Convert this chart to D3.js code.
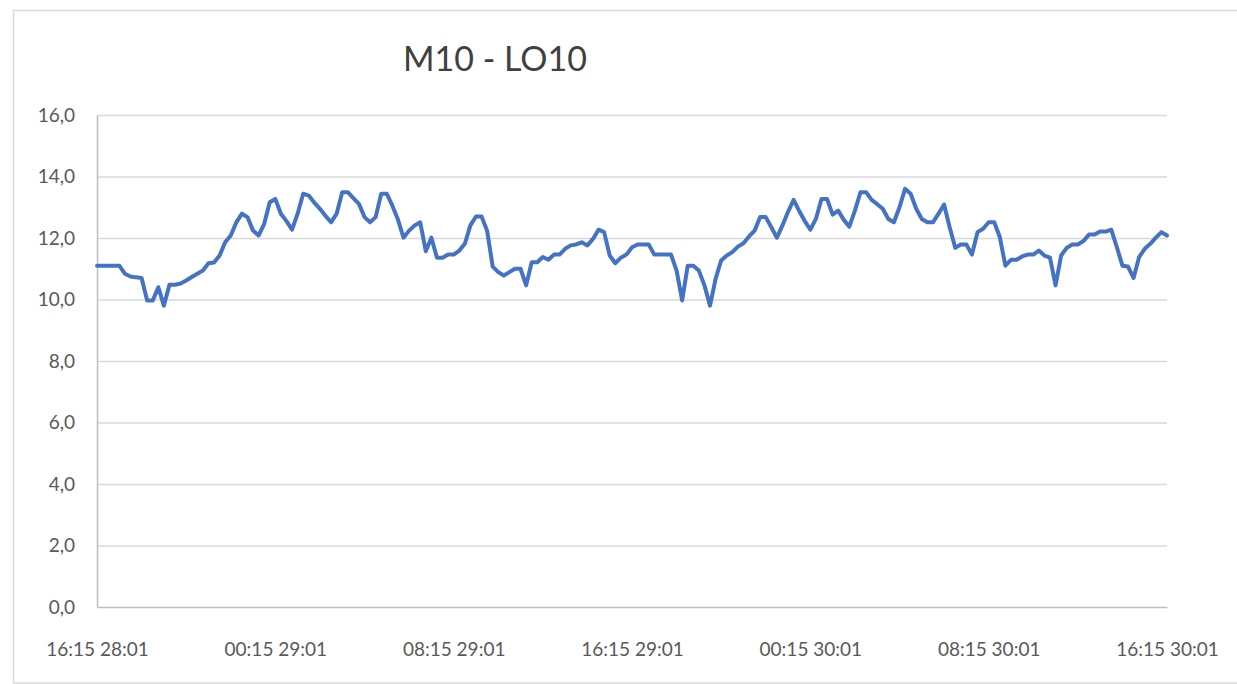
<!DOCTYPE html>
<html>
<head>
<meta charset="utf-8">
<script src="https://cdn.jsdelivr.net/npm/d3@7"></script>
<style>
  body { margin: 0; background: #fff; }
  svg { display: block; }
</style>
</head>
<body>
<div class="plot"></div>
<script>
// GLOBAL VARIABLES
var w = 1237;
var h = 684;
var margin = {top: 115, right: 70, bottom: 77, left: 97};

var title = "M10 - LO10";

// readings every 15 minutes, from 16:15 28/01 to 16:15 30/01
var values = [
  11.1, 11.1, 11.1, 11.1, 11.1, 10.84, 10.75, 10.72, 10.7, 9.97,
  9.97, 10.4, 9.8, 10.48, 10.48, 10.52, 10.62, 10.73, 10.84, 10.94,
  11.18, 11.2, 11.43, 11.86, 12.08, 12.51, 12.79, 12.68, 12.24, 12.08,
  12.46, 13.16, 13.27, 12.79, 12.55, 12.27, 12.79, 13.44, 13.38, 13.15,
  12.95, 12.72, 12.51, 12.79, 13.49, 13.49, 13.3, 13.11, 12.68, 12.51,
  12.68, 13.44, 13.44, 13.05, 12.6, 12.01, 12.24, 12.41, 12.51, 11.57,
  12.01, 11.36, 11.36, 11.46, 11.46, 11.59, 11.81, 12.41, 12.7, 12.7,
  12.24, 11.07, 10.89, 10.78, 10.89, 11.0, 11.0, 10.46, 11.21, 11.21,
  11.38, 11.29, 11.46, 11.46, 11.65, 11.76, 11.79, 11.86, 11.76, 11.97,
  12.27, 12.19, 11.43, 11.18, 11.36, 11.46, 11.7, 11.79, 11.79, 11.79,
  11.46, 11.46, 11.46, 11.46, 10.94, 9.97, 11.1, 11.1, 10.94, 10.46,
  9.8, 10.67, 11.27, 11.43, 11.54, 11.72, 11.83, 12.05, 12.24, 12.68,
  12.68, 12.35, 12.01, 12.41, 12.85, 13.24, 12.88, 12.55, 12.27, 12.62,
  13.27, 13.27, 12.76, 12.89, 12.59, 12.37, 12.89, 13.49, 13.49, 13.24,
  13.1, 12.95, 12.62, 12.51, 13.0, 13.6, 13.44, 12.95, 12.62, 12.51,
  12.51, 12.79, 13.09, 12.35, 11.68, 11.79, 11.79, 11.46, 12.19, 12.3,
  12.51, 12.51, 12.03, 11.1, 11.29, 11.29, 11.4, 11.46, 11.46, 11.59,
  11.43, 11.36, 10.46, 11.43, 11.68, 11.79, 11.79, 11.9, 12.11, 12.11,
  12.21, 12.21, 12.27, 11.7, 11.1, 11.07, 10.7, 11.38, 11.65, 11.81,
  12.01, 12.19, 12.08
];

// category labels shown on the x axis (every 32nd reading = 8 hours)
var tickIndex = [0, 32, 64, 96, 128, 160, 192];
var tickLabels = ["16:15 28:01", "00:15 29:01", "08:15 29:01", "16:15 29:01",
                  "00:15 30:01", "08:15 30:01", "16:15 30:01"];

var yTicks = [0, 2, 4, 6, 8, 10, 12, 14, 16];

var svg = d3.select(".plot").append("svg").attr("width", w).attr("height", h);

// chart frame
svg.append("rect")
  .attr("x", 13.5)
  .attr("y", 10.5)
  .attr("width", w)
  .attr("height", 672.5)
  .attr("fill", "none")
  .attr("stroke", "#d9d9d9")
  .attr("stroke-width", 1.5);

// SCALES
var xScale = d3.scaleLinear()
  .domain([0, values.length - 1])
  .range([margin.left, w - margin.right]);
var yScale = d3.scaleLinear()
  .domain([0, 16])
  .range([h - margin.bottom, margin.top]);

// GRID
svg.append("g")
  .attr("class", "grid")
  .attr("transform", "translate(" + margin.left + ",0)")
  .call(d3.axisLeft(yScale)
    .tickValues(yTicks.filter(function (d) { return d > 0; }))
    .tickSize(-(w - margin.right - margin.left))
    .tickFormat(""))
  .call(function (g) { g.select(".domain").remove(); })
  .selectAll("line")
  .attr("stroke", "#d9d9d9")
  .attr("stroke-width", 1.5);

// y-axis labels
var yAxis = d3.axisLeft(yScale)
  .tickValues(yTicks)
  .tickSize(0)
  .tickPadding(22)
  .tickFormat(function (d) { return d3.format(".1f")(d).replace(".", ","); });

var yG = svg.append("g")
  .attr("transform", "translate(" + margin.left + ",0)")
  .call(yAxis);
yG.select(".domain").attr("stroke", "#bfbfbf").attr("stroke-width", 1.5);
yG.selectAll("text")
  .attr("font-family", "Lato, sans-serif")
  .attr("font-size", "19px")
  .attr("fill", "#595959");

// x-axis
var xAxis = d3.axisBottom(xScale)
  .tickValues(tickIndex)
  .tickSize(0)
  .tickPadding(36)
  .tickFormat(function (d, i) { return tickLabels[i]; });

var xG = svg.append("g")
  .attr("transform", "translate(0," + (h - margin.bottom) + ")")
  .call(xAxis);
xG.select(".domain").attr("stroke", "#bfbfbf").attr("stroke-width", 1.5);
xG.selectAll("text")
  .attr("font-family", "Lato, sans-serif")
  .attr("font-size", "19px")
  .attr("fill", "#595959");

// LINE
var line = d3.line()
  .x(function (d, i) { return xScale(i); })
  .y(function (d) { return yScale(d); });

svg.append("path")
  .datum(values)
  .attr("d", line)
  .attr("fill", "none")
  .attr("stroke", "#4472c4")
  .attr("stroke-width", 4)
  .attr("stroke-linejoin", "round")
  .attr("stroke-linecap", "round");

// TITLE
svg.append("text")
  .attr("x", 495)
  .attr("y", 71)
  .attr("text-anchor", "middle")
  .attr("font-family", "Lato, sans-serif")
  .attr("font-size", "34px")
  .attr("fill", "#404040")
  .text(title);
</script>
</body>
</html>
